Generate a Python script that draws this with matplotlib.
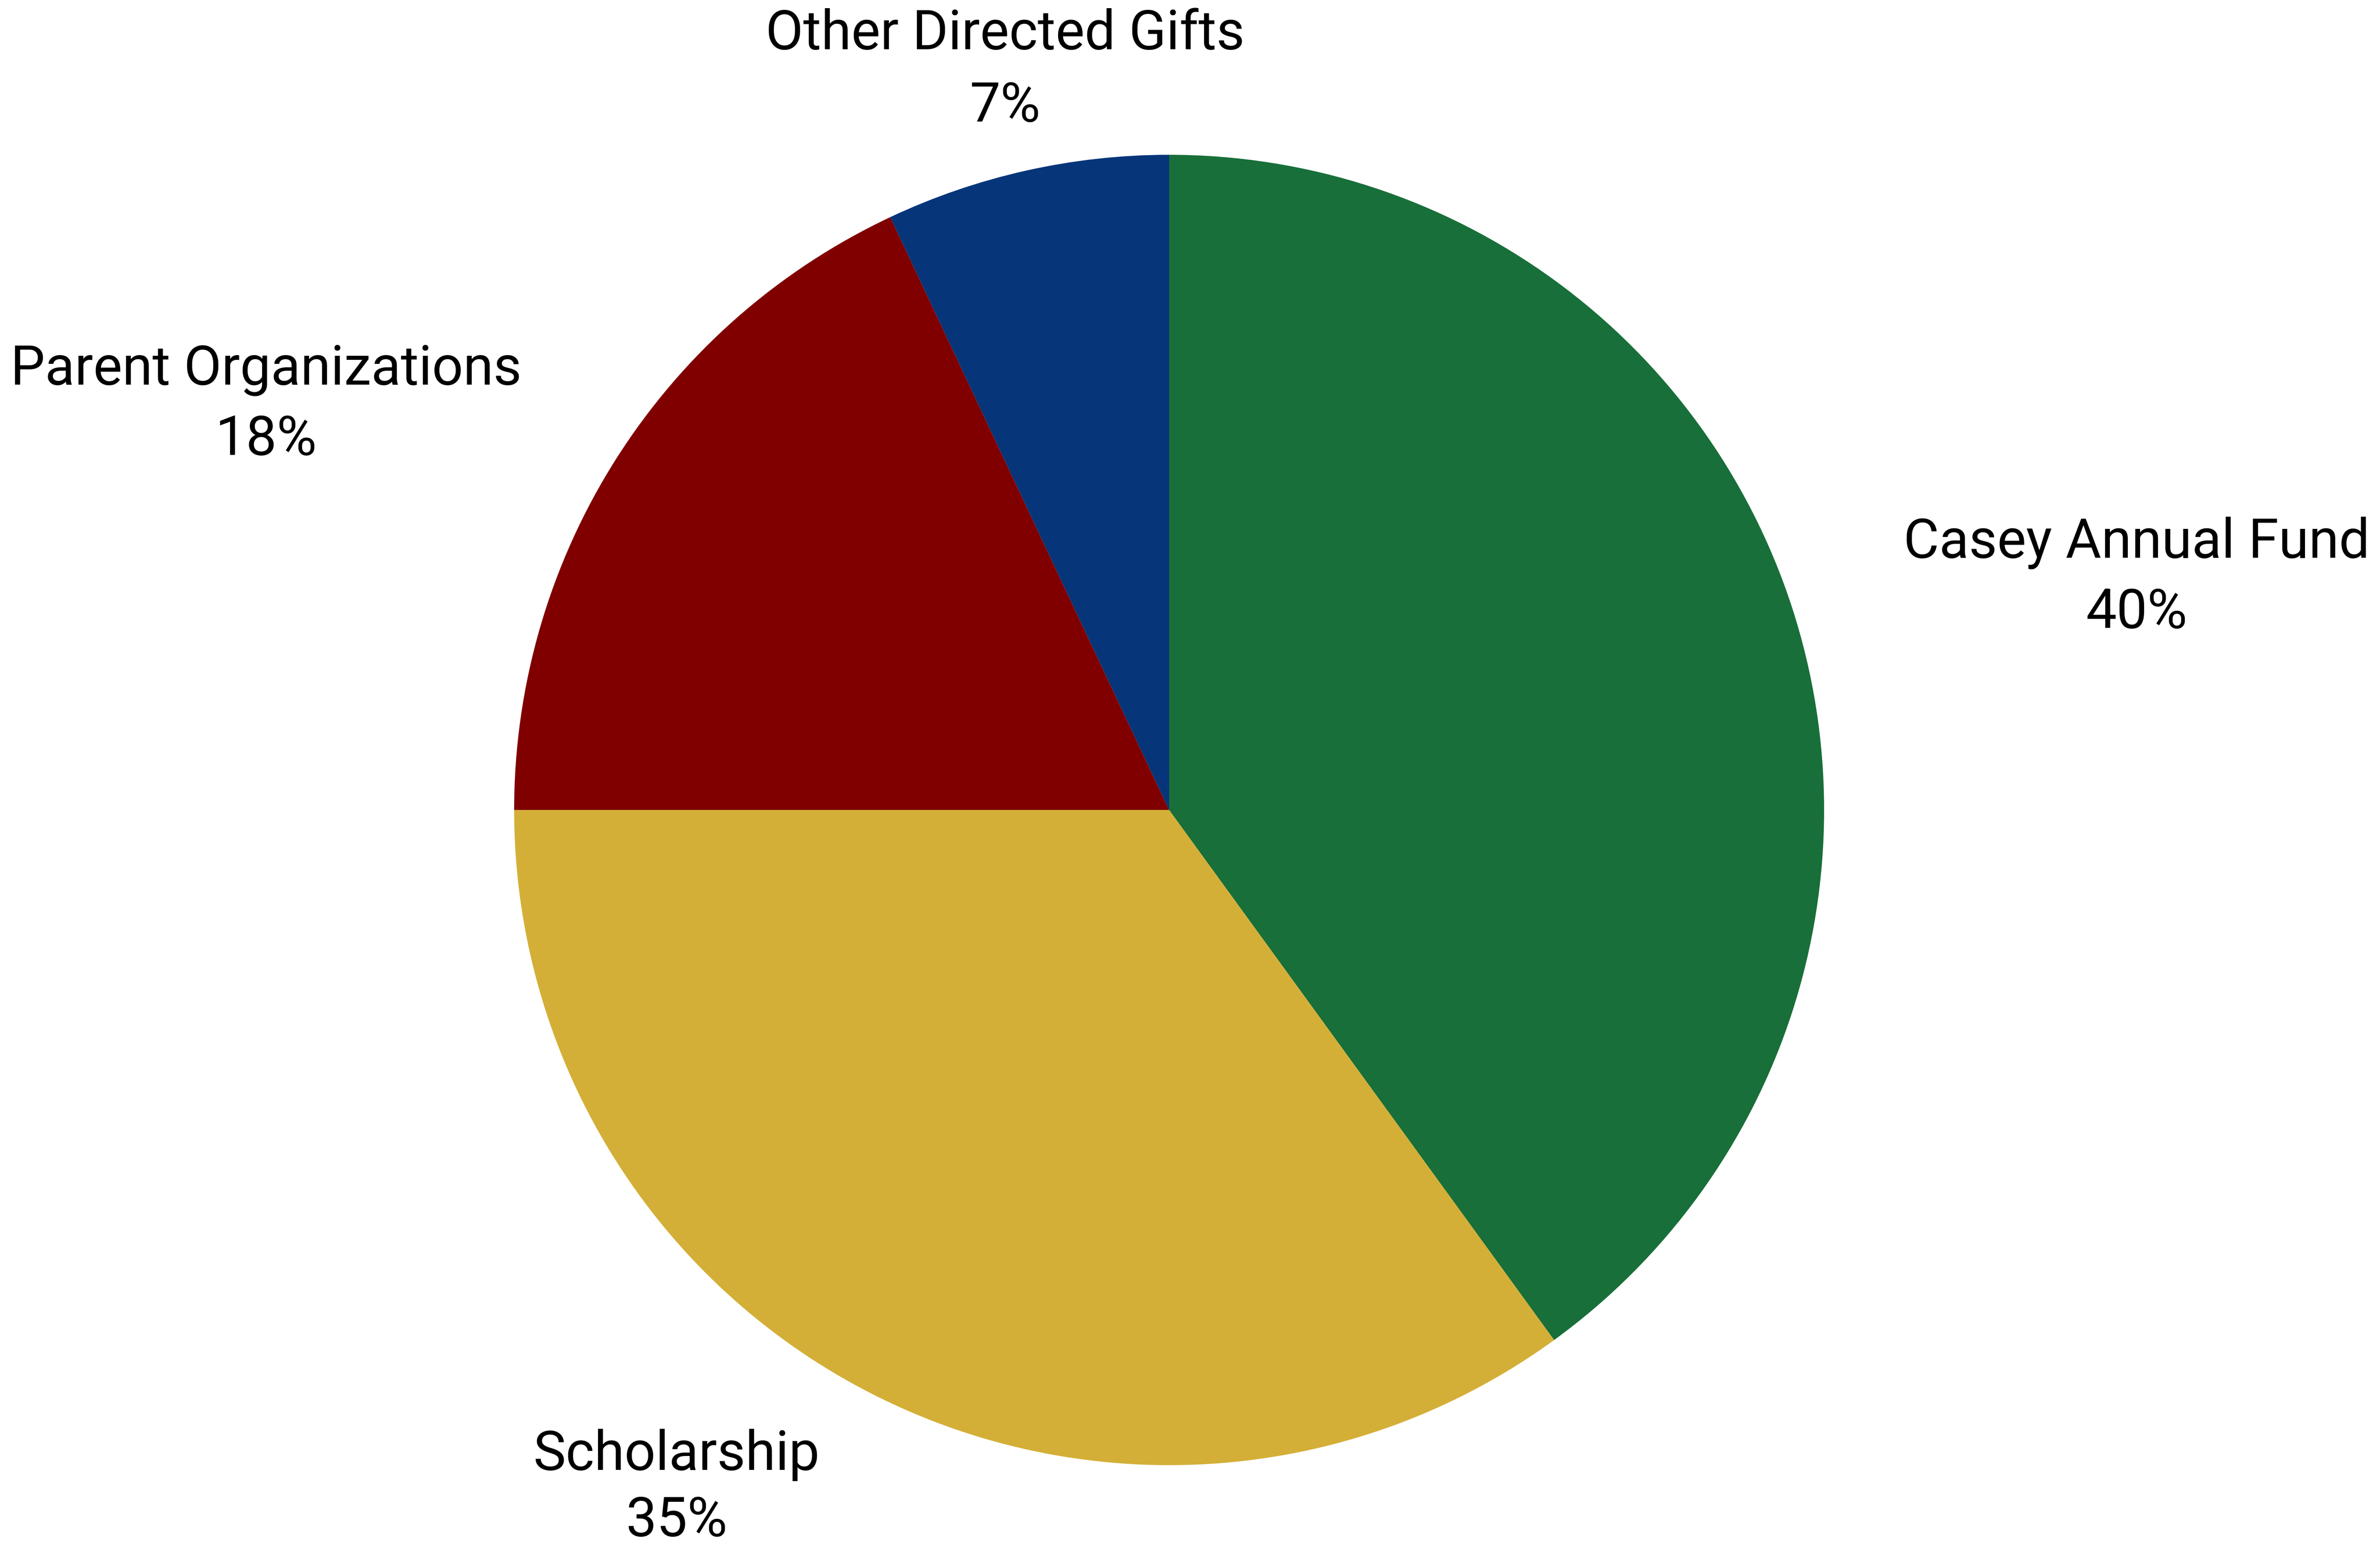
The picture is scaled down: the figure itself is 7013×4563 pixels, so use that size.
import matplotlib
matplotlib.use("Agg")
import matplotlib.pyplot as plt

categories = ["Casey Annual Fund", "Scholarship", "Parent Organizations", "Other Directed Gifts"]
values = [40, 35, 18, 7]
colors = ["#186F39", "#D4AF37", "#800000", "#06357A"]

W, H = 7013, 4563
DPI = 100
fig = plt.figure(figsize=(W / DPI, H / DPI), dpi=DPI)
ax = fig.add_axes([0, 0, 1, 1])

cx, cy, r = 3445, H - 2386, 1930
ax.pie(values, colors=colors, startangle=90, counterclock=False,
       radius=r, center=(cx, cy), frame=True,
       wedgeprops=dict(linewidth=0, antialiased=True))
ax.set_xlim(0, W)
ax.set_ylim(0, H)
ax.set_aspect("equal", adjustable="box")
ax.axis("off")

# label layout: (center x, baseline y of name line, baseline y of percent line) in pixel coords from top
label_pos = [(6296, 1643, 1850), (1994, 4330, 4525), (784, 1133, 1340), (2962, 145, 358)]
fs = 116
for name, v, (x, y1, y2) in zip(categories, values, label_pos):
    ax.text(x, H - y1, name, ha="center", va="baseline", fontsize=fs,
            family=["Roboto", "DejaVu Sans"], color="black")
    ax.text(x, H - y2, f"{v}%", ha="center", va="baseline", fontsize=fs,
            family=["Roboto", "DejaVu Sans"], color="black")

fig.savefig("out.png", dpi=DPI, facecolor="white")
